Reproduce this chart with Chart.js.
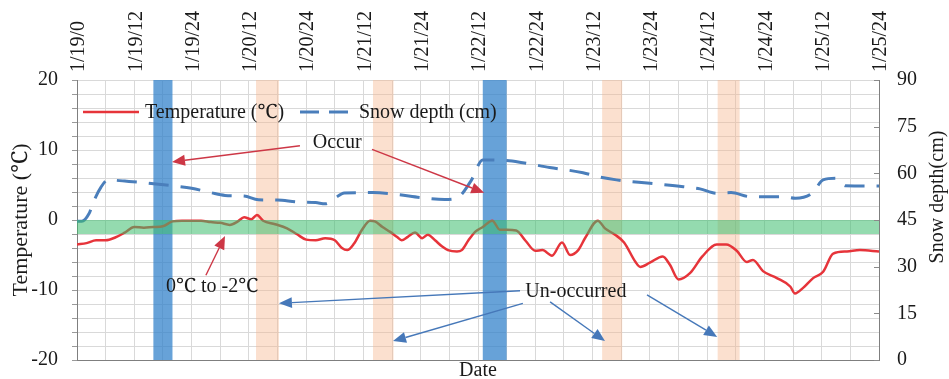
<!DOCTYPE html>
<html>
<head>
<meta charset="utf-8">
<script src="https://cdn.jsdelivr.net/npm/chart.js@4.4.1/dist/chart.umd.min.js"></script>
<style>
  html, body { margin: 0; padding: 0; background: #fff; overflow: hidden; }
  canvas { display: block; }
</style>
</head>
<body>
<canvas id="c" width="949" height="379"></canvas>
<script>
// Tick labels along the top axis, one every 12 hours (day/hour)
const dateLabels = ['1/19/0', '1/19/12', '1/19/24', '1/20/12', '1/20/24', '1/21/12', '1/21/24',
  '1/22/12', '1/22/24', '1/23/12', '1/23/24', '1/24/12', '1/24/24', '1/25/12', '1/25/24'];

// Air temperature (°C), hours since 1/19 0:00
const tempHours = [0, 2, 4, 6, 8, 10, 12, 14, 16, 18, 20, 22, 24, 26, 28, 30, 32, 33.7, 35, 36.5, 37.7, 39, 41.5,
  44, 46, 48, 50, 52, 54, 55.5, 56.6, 58, 59.7, 61.4, 62.4, 64, 65.6, 67, 68, 69.3, 70.8, 72.3, 73.5, 75, 76.5,
  77.7, 79.6, 80.6, 82, 83.4, 85, 87, 88.6, 90, 92, 94, 96, 97.5, 99.5, 101.6, 103.3, 105, 106.5, 109.1, 110.6,
  112.7, 114.6, 117, 118, 120, 122.7, 124.2, 126, 128.4, 131, 134, 136, 138.2, 140.3, 141.6, 143.7, 146.6,
  149.4, 150.4, 152.1, 154.2, 156.3, 158.4, 161.3, 164, 168];
const tempValues = [-3.5, -3.3, -2.9, -2.9, -2.5, -1.8, -1.0, -1.1, -1.0, -0.9, -0.2, -0.1, -0.1, -0.1, -0.3, -0.4,
  -0.7, -0.2, 0.4, 0.1, 0.7, -0.1, -0.6, -1.2, -2.0, -2.8, -2.9, -2.6, -2.9, -4.0, -4.3, -3.4, -1.4, -0.1, -0.2,
  -1.0, -1.7, -2.4, -2.9, -2.4, -1.8, -2.6, -2.1, -2.9, -3.8, -4.3, -4.5, -4.3, -2.9, -1.7, -1.0, -0.1, -1.4,
  -1.4, -1.5, -3.0, -4.4, -4.3, -5.1, -3.2, -5.0, -4.3, -2.5, -0.1, -1.2, -2.1, -3.2, -6.0, -6.7, -6.1, -5.2,
  -6.4, -8.5, -7.6, -5.2, -3.5, -3.5, -4.4, -6.0, -5.7, -7.3, -8.3, -9.5, -10.5, -9.7, -8.3, -7.4, -4.8, -4.5,
  -4.3, -4.5];

// Snow depth (cm), hours since 1/19 0:00
const snowHours = [0, 1, 2.5, 3.5, 5, 6.5, 10, 14, 20, 24, 28, 31, 35, 38, 42, 46, 50, 52, 54, 56, 62, 67, 72, 77,
  79.5, 82.5, 85, 90, 93, 99, 106, 109.5, 113, 120, 127, 130.5, 134, 137, 141, 148, 150.5, 154, 156.3, 159, 161, 168];
const snowValues = [44.6, 44.6, 47, 51, 55.5, 57.9, 57.5, 57, 56, 55.2, 53.8, 52.9, 52.7, 51.5, 51.4, 50.8, 50.6,
  50.2, 52, 53.7, 53.8, 53.2, 52.2, 51.6, 52, 57.5, 64.3, 64.1, 63.5, 61.9, 60.2, 58.8, 57.9, 56.8, 55.7, 55,
  53.6, 53.8, 52.5, 52.5, 52, 53.6, 57.9, 58.4, 56, 55.9];

// Periods (hours) when the event occurred / did not occur
const occurSpans = [[16, 20], [85, 90]];
const unoccurredSpans = [[37.5, 42.3], [62, 66.3], [110, 114.2], [134.2, 138.8]];
// Temperature window highlighted across the plot (°C)
const bandRange = [0, -2];

const F = "'Liberation Serif', 'Times New Roman', 'Noto Serif', serif";
const TXT = '#1a1a1a';

// fixed axis box sizes; label overhang must not shrink the plot
const fixWidth = w => s => { s.width = w; s.paddingTop = 0; s.paddingBottom = 0; };
const fixHeight = h => s => { s.height = h; s.paddingLeft = 0; s.paddingRight = 0; };

const decor = {
  id: 'decor',
  beforeDatasetsDraw(chart) {
    const { ctx, chartArea: a, scales: { x } } = chart;
    ctx.save();
    ctx.beginPath(); ctx.rect(a.left, a.top, a.right - a.left, a.bottom - a.top); ctx.clip();
    ctx.fillStyle = 'rgba(245,180,140,0.42)';
    unoccurredSpans.forEach(([s, e]) => {
      const x1 = x.getPixelForValue(s), x2 = x.getPixelForValue(e);
      ctx.fillRect(x1, a.top, x2 - x1, a.bottom - a.top);
    });
    ctx.fillStyle = 'rgba(50,130,202,0.74)';
    occurSpans.forEach(([s, e]) => {
      const x1 = x.getPixelForValue(s), x2 = x.getPixelForValue(e);
      ctx.fillRect(x1, a.top, x2 - x1, a.bottom - a.top);
    });
    ctx.restore();
  },
  afterDatasetsDraw(chart) {
    const { ctx, chartArea: a, scales: { x, y, y2 } } = chart;
    ctx.save();
    // green band between 0 and -2 °C
    const yb1 = y.getPixelForValue(bandRange[0]), yb2 = y.getPixelForValue(bandRange[1]);
    ctx.fillStyle = 'rgba(60,190,110,0.55)';
    ctx.fillRect(a.left, yb1, a.right - a.left, yb2 - yb1);

    // inward ticks on the right axis
    ctx.strokeStyle = '#8a8a8a'; ctx.lineWidth = 1;
    for (let v = 0; v <= 90; v += 15) {
      const py = Math.round(y2.getPixelForValue(v)) + 0.5;
      ctx.beginPath(); ctx.moveTo(a.right - 5, py); ctx.lineTo(a.right, py); ctx.stroke();
    }

    // date labels above the plot, reading upward
    ctx.fillStyle = TXT; ctx.font = '20px ' + F;
    ctx.textAlign = 'left'; ctx.textBaseline = 'middle';
    dateLabels.forEach((lbl, i) => {
      ctx.save();
      ctx.translate(x.getPixelForValue(i * 12) + 2, a.top - 8);
      ctx.rotate(-Math.PI / 2);
      ctx.fillText(lbl, 0, 0);
      ctx.restore();
    });

    // legend inside the plot
    const ly = a.top + 32;
    ctx.lineWidth = 2.5; ctx.strokeStyle = 'rgb(230,52,58)';
    ctx.beginPath(); ctx.moveTo(a.left + 6, ly); ctx.lineTo(a.left + 62, ly); ctx.stroke();
    ctx.lineWidth = 3; ctx.strokeStyle = 'rgb(74,126,187)'; ctx.setLineDash([19, 10]);
    ctx.beginPath(); ctx.moveTo(a.left + 223, ly); ctx.lineTo(a.left + 278, ly); ctx.stroke();
    ctx.setLineDash([]);
    ctx.fillStyle = TXT; ctx.font = '20px ' + F; ctx.textBaseline = 'middle'; ctx.textAlign = 'left';
    ctx.fillText('Temperature (℃)', a.left + 68, ly + 1);
    ctx.fillText('Snow depth (cm)', a.left + 282, ly + 1);

    // annotations
    const arrow = (h1, t1, h2, t2, color) => {
      const x1 = x.getPixelForValue(h1), y1 = y.getPixelForValue(t1);
      const x2 = x.getPixelForValue(h2), y2p = y.getPixelForValue(t2);
      const ang = Math.atan2(y2p - y1, x2 - x1), L = 13, W = 5.5;
      const c = Math.cos(ang), s = Math.sin(ang);
      ctx.strokeStyle = color; ctx.fillStyle = color; ctx.lineWidth = 1.4;
      ctx.beginPath(); ctx.moveTo(x1, y1); ctx.lineTo(x2 - L * c, y2p - L * s); ctx.stroke();
      ctx.beginPath(); ctx.moveTo(x2, y2p);
      ctx.lineTo(x2 - L * c + W * s, y2p - L * s - W * c);
      ctx.lineTo(x2 - L * c - W * s, y2p - L * s + W * c);
      ctx.closePath(); ctx.fill();
    };
    const red = 'rgb(205,55,70)', blue = 'rgb(70,120,185)';
    arrow(46.7, 10.6, 19.9, 8.3, red);
    arrow(61.8, 10.1, 85.3, 3.9, red);
    arrow(27.0, -7.9, 31.0, -2.3, red);
    arrow(92.8, -10.1, 42.3, -11.9, blue);
    arrow(93.4, -11.9, 66.2, -17.3, blue);
    arrow(99.1, -11.7, 110.6, -17.3, blue);
    arrow(119.4, -10.7, 134.1, -16.7, blue);

    ctx.fillStyle = TXT; ctx.textAlign = 'center'; ctx.textBaseline = 'middle';
    ctx.font = '20px ' + F;
    ctx.fillText('Occur', x.getPixelForValue(54.5), y.getPixelForValue(11.0));
    ctx.fillText('0℃ to -2℃', x.getPixelForValue(28.3), y.getPixelForValue(-9.6));
    ctx.fillText('Un-occurred', x.getPixelForValue(104.5), y.getPixelForValue(-10.3));

    // right axis title, reading bottom to top
    ctx.translate(a.right + 59, a.top + 117);
    ctx.rotate(-Math.PI / 2);
    ctx.fillText('Snow depth(cm)', 0, 0);
    ctx.restore();
  }
};

new Chart(document.getElementById('c'), {
  type: 'line',
  data: {
    datasets: [
      {
        label: 'Temperature (℃)',
        data: tempHours.map((h, i) => ({ x: h, y: tempValues[i] })),
        xAxisID: 'x', yAxisID: 'y',
        borderColor: 'rgb(230,52,58)', borderWidth: 2.5,
        pointRadius: 0, cubicInterpolationMode: 'monotone', fill: false
      },
      {
        label: 'Snow depth (cm)',
        data: snowHours.map((h, i) => ({ x: h, y: snowValues[i] })),
        xAxisID: 'x', yAxisID: 'y2',
        borderColor: 'rgb(74,126,187)', borderWidth: 3, borderDash: [20, 12],
        pointRadius: 0, cubicInterpolationMode: 'monotone', fill: false
      }
    ]
  },
  options: {
    responsive: false, animation: false, devicePixelRatio: 1,
    layout: { padding: 0, autoPadding: false },
    plugins: { legend: { display: false }, tooltip: { enabled: false }, title: { display: false } },
    scales: {
      x: {
        type: 'linear', position: 'top', min: 0, max: 168,
        afterFit: fixHeight(80),
        ticks: { stepSize: 6, autoSkip: false, display: false },
        grid: { color: '#d9d9d9', drawTicks: false },
        border: { color: '#d9d9d9' }
      },
      x2: {
        type: 'linear', position: 'bottom', min: 0, max: 168,
        afterFit: fixHeight(19),
        ticks: { display: false },
        grid: { display: false, drawTicks: false },
        border: { display: true, color: '#7f7f7f' },
        title: { display: true, text: 'Date', color: TXT, font: { family: F, size: 20, lineHeight: 0.8 }, padding: 0 }
      },
      y: {
        position: 'left', min: -20, max: 20,
        afterFit: fixWidth(77),
        ticks: {
          stepSize: 2, autoSkip: false, padding: 14, color: TXT, font: { family: F, size: 20 },
          callback: v => (v % 10 === 0 ? String(v) : '')
        },
        grid: { color: '#d9d9d9', tickLength: 5, tickColor: '#9a9a9a' },
        border: { color: '#7f7f7f' },
        title: { display: true, text: 'Temperature (℃)', color: TXT, font: { family: F, size: 22 }, padding: { top: 8, bottom: 0 } }
      },
      y2: {
        position: 'right', min: 0, max: 90,
        afterFit: fixWidth(70),
        ticks: { stepSize: 15, padding: 18, color: TXT, font: { family: F, size: 20 } },
        grid: { drawOnChartArea: false, drawTicks: false },
        border: { color: '#7f7f7f' }
      }
    }
  },
  plugins: [decor]
});
</script>
</body>
</html>
